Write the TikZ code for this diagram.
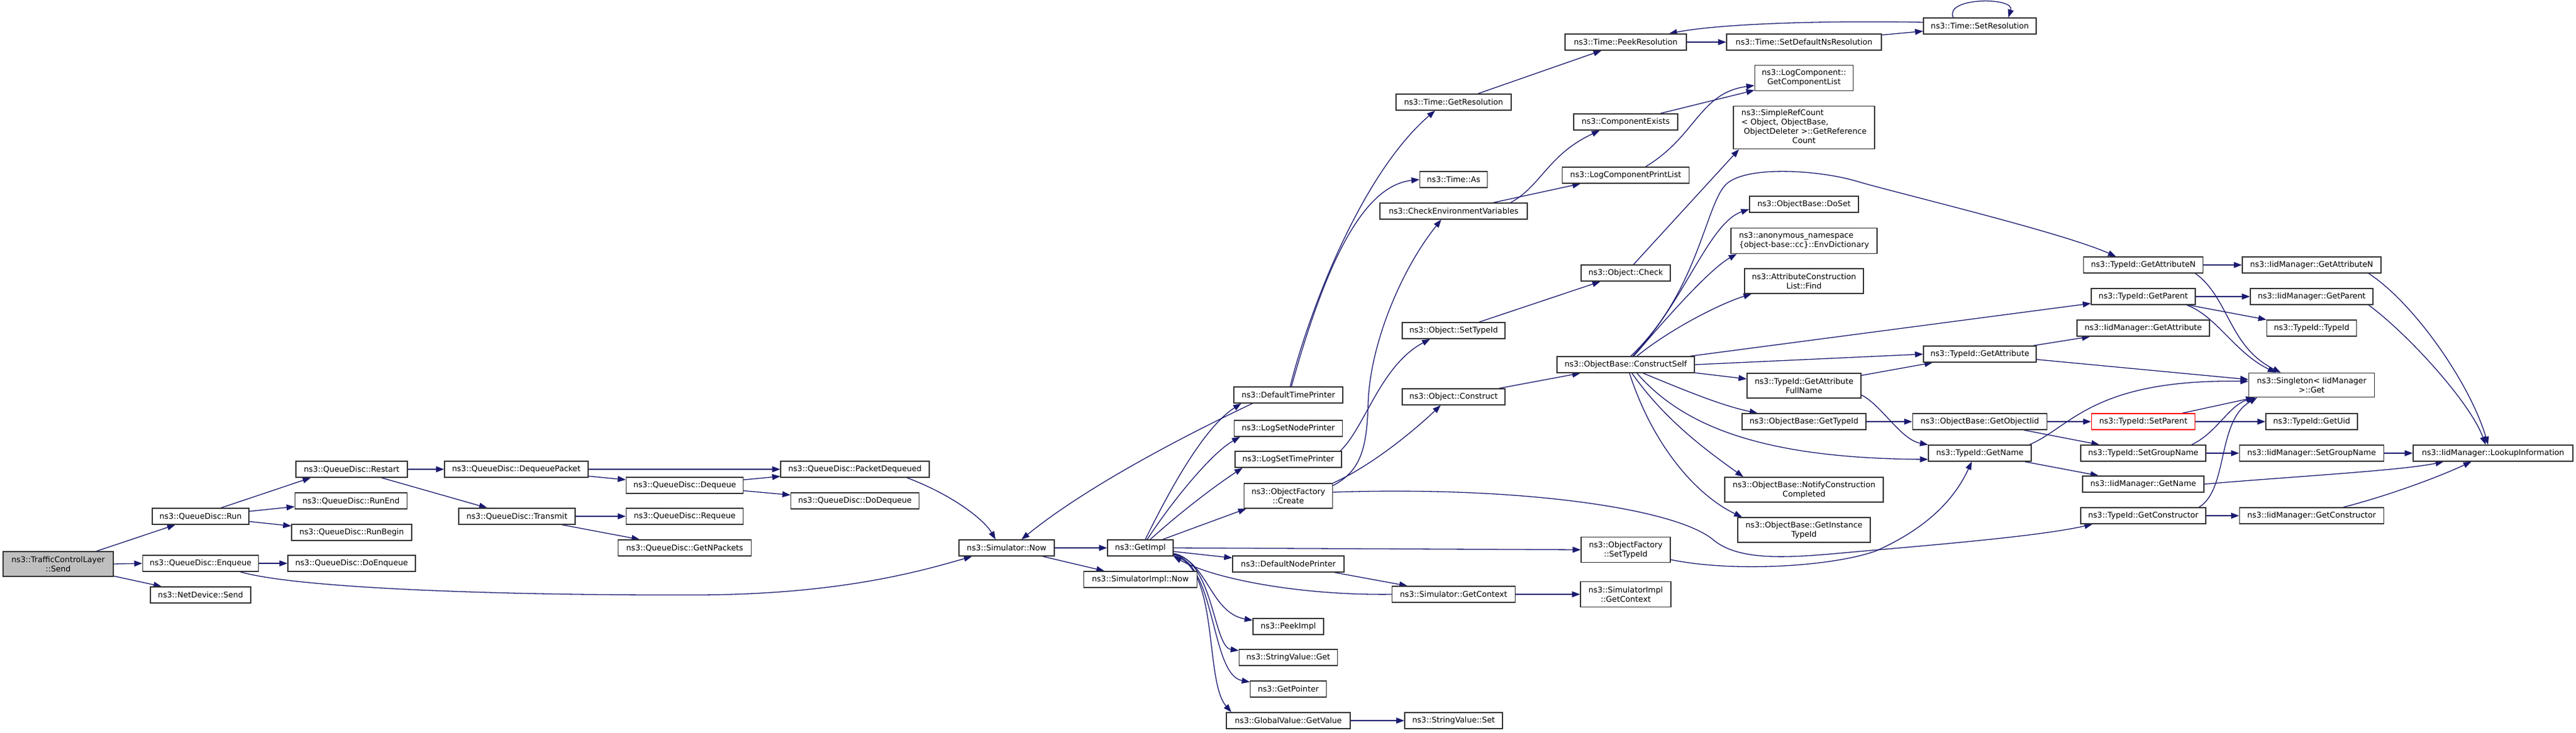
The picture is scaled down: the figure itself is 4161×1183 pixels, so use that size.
\documentclass[tikz,border=0pt]{standalone}
\usepackage{fontspec}
\setmainfont{DejaVu Sans}
\usetikzlibrary{arrows.meta}
\definecolor{mblue}{HTML}{191970}
\definecolor{nborder}{HTML}{333333}
\definecolor{sendfill}{HTML}{BFBFBF}
\definecolor{redb}{HTML}{FF0000}
\pgfdeclarelayer{bg}
\pgfsetlayers{bg,main}
\newcommand{\nfont}{\fontsize{12.7}{15}\selectfont}
\tikzset{
  nd/.style={draw=nborder, line width=1.4pt, fill=white, inner sep=0pt, align=center, font=\nfont, minimum height=26pt},
  e/.style={draw=mblue, line width=1.3pt, -{Triangle[length=13pt,width=9.5pt]}},
}
\begin{document}
\begin{tikzpicture}[x=1pt,y=-1pt]
\useasboundingbox (0,0) rectangle (4161,1183);
% column 0-1
\node[nd, fill=sendfill, minimum width=178pt, minimum height=40pt] (send) at (94,911) {ns3::TrafficControlLayer\\::Send};
\node[nd, minimum width=156pt] (run) at (324,834) {ns3::QueueDisc::Run};
\node[nd, minimum width=187pt] (enq) at (324,910) {ns3::QueueDisc::Enqueue};
\node[nd, minimum width=162pt] (ndsend) at (324,961) {ns3::NetDevice::Send};
\node[nd, minimum width=180pt] (restart) at (568,758) {ns3::QueueDisc::Restart};
\node[nd, minimum width=181pt] (runend) at (567,809) {ns3::QueueDisc::RunEnd};
\node[nd, minimum width=194pt] (runbegin) at (568,860) {ns3::QueueDisc::RunBegin};
\node[nd, minimum width=206pt] (doenq) at (568,910) {ns3::QueueDisc::DoEnqueue};
\node[nd, minimum width=232pt] (deqpkt) at (834,758) {ns3::QueueDisc::DequeuePacket};
\node[nd, minimum width=188pt] (transmit) at (835,834) {ns3::QueueDisc::Transmit};
\node[nd, minimum width=189pt] (dequeue) at (1106,784) {ns3::QueueDisc::Dequeue};
\node[nd, minimum width=189pt] (requeue) at (1106,834) {ns3::QueueDisc::Requeue};
\node[nd, minimum width=215pt] (getnp) at (1106,885) {ns3::QueueDisc::GetNPackets};
\node[nd, minimum width=240pt] (pktdeq) at (1381,758) {ns3::QueueDisc::PacketDequeued};
\node[nd, minimum width=207pt] (dodeq) at (1381,809) {ns3::QueueDisc::DoDequeue};
\node[nd, minimum width=154pt] (simnow) at (1626,885) {ns3::Simulator::Now};
\node[nd, minimum width=106pt] (getimpl) at (1842,885) {ns3::GetImpl};
\node[nd, minimum width=183pt] (simimplnow) at (1842,936) {ns3::SimulatorImpl::Now};
% column GetImpl callees
\node[nd, minimum width=176pt] (deftp) at (2081,638) {ns3::DefaultTimePrinter};
\node[nd, minimum width=175pt] (lsnp) at (2081,692) {ns3::LogSetNodePrinter};
\node[nd, minimum width=172pt] (lstp) at (2081,742) {ns3::LogSetTimePrinter};
\node[nd, minimum width=143pt, minimum height=40pt] (ofcreate) at (2081,801) {ns3::ObjectFactory\\::Create};
\node[nd, minimum width=180pt] (defnp) at (2081,911) {ns3::DefaultNodePrinter};
\node[nd, minimum width=114pt] (peekimpl) at (2081,1012) {ns3::PeekImpl};
\node[nd, minimum width=159pt] (strget) at (2081,1062) {ns3::StringValue::Get};
\node[nd, minimum width=123pt] (getptr) at (2081,1113) {ns3::GetPointer};
\node[nd, minimum width=200pt] (gvget) at (2081,1164) {ns3::GlobalValue::GetValue};
% next column
\node[nd, minimum width=186pt] (getres) at (2348,165) {ns3::Time::GetResolution};
\node[nd, minimum width=109pt] (timeas) at (2348,290) {ns3::Time::As};
\node[nd, minimum width=238pt] (cev) at (2348,341) {ns3::CheckEnvironmentVariables};
\node[nd, minimum width=166pt] (objsettid) at (2348,534) {ns3::Object::SetTypeId};
\node[nd, minimum width=166pt] (objconstruct) at (2348,641) {ns3::Object::Construct};
\node[nd, minimum width=199pt] (simgetctx) at (2348,960) {ns3::Simulator::GetContext};
\node[nd, minimum width=158pt] (strset) at (2348,1164) {ns3::StringValue::Set};
% next column
\node[nd, minimum width=196pt] (peekres) at (2626,68) {ns3::Time::PeekResolution};
\node[nd, minimum width=168pt] (compexists) at (2626,197) {ns3::ComponentExists};
\node[nd, minimum width=205pt] (lcpl) at (2626,283) {ns3::LogComponentPrintList};
\node[nd, minimum width=144pt] (objcheck) at (2626,441) {ns3::Object::Check};
\node[nd, minimum width=222pt] (constructself) at (2626,589) {ns3::ObjectBase::ConstructSelf};
\node[nd, minimum width=144pt, minimum height=41pt] (ofsettid) at (2626,888) {ns3::ObjectFactory\\::SetTypeId};
\node[nd, minimum width=146pt, minimum height=41pt] (simimplctx) at (2626,960) {ns3::SimulatorImpl\\::GetContext};
% next column
\node[nd, minimum width=250pt] (setdefns) at (2914,68) {ns3::Time::SetDefaultNsResolution};
\node[nd, minimum width=159pt, minimum height=41pt] (getcomplist) at (2914,126) {ns3::LogComponent::\\GetComponentList};
\node[nd, minimum width=228pt, minimum height=69pt] (simplerc) at (2914,206) {\begin{tabular}{@{}l@{}}ns3::SimpleRefCount\\< Object, ObjectBase,\\ \ ObjectDeleter >::GetReference\\\multicolumn{1}{@{}c@{}}{Count}\end{tabular}};
\node[nd, minimum width=176pt] (doset) at (2914,330) {ns3::ObjectBase::DoSet};
\node[nd, minimum width=236pt, minimum height=41pt] (anon) at (2914,389) {\begin{tabular}{@{}l@{}}ns3::anonymous\_namespace\\\{object-base::cc\}::EnvDictionary\end{tabular}};
\node[nd, minimum width=192pt, minimum height=40pt] (acfind) at (2914,454) {ns3::AttributeConstruction\\List::Find};
\node[nd, minimum width=184pt, minimum height=40pt] (gafn) at (2914,623) {ns3::TypeId::GetAttribute\\FullName};
\node[nd, minimum width=200pt] (obgettid) at (2914,681) {ns3::ObjectBase::GetTypeId};
\node[nd, minimum width=256pt, minimum height=40pt] (notify) at (2914,791) {ns3::ObjectBase::NotifyConstruction\\Completed};
\node[nd, minimum width=214pt, minimum height=40pt] (getinst) at (2914,856) {ns3::ObjectBase::GetInstance\\TypeId};
% next column
\node[nd, minimum width=182pt] (setres) at (3198,42) {ns3::Time::SetResolution};
\node[nd, minimum width=182pt] (tgetattr) at (3198,572) {ns3::TypeId::GetAttribute};
\node[nd, minimum width=217pt] (getobjiid) at (3198,681) {ns3::ObjectBase::GetObjectIid};
\node[nd, minimum width=166pt] (tgetname) at (3198,732) {ns3::TypeId::GetName};
% next column
\node[nd, minimum width=193pt] (tgetattrn) at (3462,428) {ns3::TypeId::GetAttributeN};
\node[nd, minimum width=168pt] (tgetparent) at (3462,479) {ns3::TypeId::GetParent};
\node[nd, minimum width=214pt] (iidgetattr) at (3462,530) {ns3::IidManager::GetAttribute};
\node[nd, minimum width=167pt, draw=redb] (setparent) at (3462,681) {ns3::TypeId::SetParent};
\node[nd, minimum width=202pt] (setgroup) at (3462,732) {ns3::TypeId::SetGroupName};
\node[nd, minimum width=196pt] (iidgetname) at (3462,782) {ns3::IidManager::GetName};
\node[nd, minimum width=202pt] (tgetctor) at (3462,833) {ns3::TypeId::GetConstructor};
% next column
\node[nd, minimum width=224pt] (iidgetattrn) at (3734,428) {ns3::IidManager::GetAttributeN};
\node[nd, minimum width=198pt] (iidgetparent) at (3734,479) {ns3::IidManager::GetParent};
\node[nd, minimum width=145pt] (typeidtypeid) at (3734,530) {ns3::TypeId::TypeId};
\node[nd, minimum width=203pt, minimum height=39pt] (singleton) at (3734,622) {ns3::Singleton< IidManager\\ >::Get};
\node[nd, minimum width=148pt] (getuid) at (3734,681) {ns3::TypeId::GetUid};
\node[nd, minimum width=233pt] (iidsetgroup) at (3734,732) {ns3::IidManager::SetGroupName};
\node[nd, minimum width=233pt] (iidgetctor) at (3734,833) {ns3::IidManager::GetConstructor};
\node[nd, minimum width=258pt] (lookup) at (4027,732) {ns3::IidManager::LookupInformation};

\begin{pgfonlayer}{bg}
\fill[white] (0,0) rectangle (4161,1183);
\draw[e] (send) -- (run);
\draw[e] (send.east) -- (enq.west);
\draw[e] (send) -- (ndsend);
\draw[e] ([xshift=33]run.north) -- ([xshift=-66]restart.south);
\draw[e] (run) -- (runend);
\draw[e] (run) -- (runbegin);
\draw[e] (enq) -- (doenq);
\draw[e] ([xshift=64]enq.south) .. controls (480,950) and (800,962) .. (1129,961) .. controls (1350,960) and (1480,925) .. ([xshift=-56]simnow.south);
\draw[e] (restart) -- (deqpkt);
\draw[e] (restart) -- (transmit);
\draw[e] (deqpkt) -- (pktdeq);
\draw[e] (deqpkt) -- (dequeue);
\draw[e] (dequeue) -- (pktdeq);
\draw[e] (dequeue) -- (dodeq);
\draw[e] (transmit) -- (requeue);
\draw[e] (transmit) -- (getnp);
\draw[e] ([xshift=84]pktdeq.south) .. controls (1540,800) and (1590,840) .. ([xshift=-18]simnow.north);
\draw[e] (simnow) -- (getimpl);
\draw[e] (simnow) -- (simimplnow);
\draw[e] ([xshift=-58]deftp.south) .. controls (1900,710) and (1750,790) .. ([xshift=24]simnow.north);
\draw[e] ([xshift=8]getimpl.north) .. controls (1890,790) and (1945,690) .. ([xshift=-76]deftp.south);
\draw[e] ([xshift=11]getimpl.north) .. controls (1900,800) and (1960,730) .. ([xshift=-78]lsnp.south);
\draw[e] ([xshift=16]getimpl.north) .. controls (1915,820) and (1970,780) .. ([xshift=-74]lstp.south);
\draw[e] ([xshift=36]getimpl.north) -- ([xshift=-68]ofcreate.south);
\draw[e] (getimpl.east) -- (ofsettid.west);
\draw[e] (getimpl) -- (defnp);
\draw[e] (simgetctx.west) .. controls (2100,962) and (1960,935) .. (getimpl.south east);
\draw[e] (getimpl) .. controls (1950,905) and (1955,990) .. (peekimpl);
\draw[e] (getimpl) .. controls (1960,905) and (1960,1045) .. (strget);
\draw[e] (getimpl) .. controls (1965,910) and (1955,1090) .. (getptr);
\draw[e] (getimpl) .. controls (1970,915) and (1945,1100) .. ([xshift=-92]gvget.north);
\draw[e] (gvget) -- (strset);
\draw[e] (defnp) -- (simgetctx);
\draw[e] (simgetctx) -- (simimplctx);
\draw[e] ([xshift=3]deftp.north) .. controls (2115,500) and (2200,280) .. ([xshift=-30]getres.south);
\draw[e] ([xshift=5]deftp.north) .. controls (2140,430) and (2200,300) .. (timeas.west);
\draw[e] (getres) -- (peekres);
\draw[e] (peekres) -- (setdefns);
\draw[e] (setdefns) -- (setres);
\draw[e] ([yshift=6]setres.west) .. controls (2950,33) and (2780,38) .. ([xshift=70]peekres.north);
\draw[e] ([xshift=-43]setres.north) .. controls (3140,-5) and (3255,-5) .. ([xshift=46]setres.north);
\draw[e] ([xshift=84]lstp.north) .. controls (2205,690) and (2230,590) .. ([xshift=-38]objsettid.south);
\draw[e] ([yshift=-4]ofcreate.north east) .. controls (2200,760) and (2208,720) .. (2210,650) .. controls (2213,560) and (2260,440) .. ([xshift=-20]cev.south);
\draw[e] (ofcreate.north east) .. controls (2220,750) and (2290,690) .. ([xshift=-21]objconstruct.south);
\draw[e] ([yshift=6]ofcreate.east) .. controls (2450,785) and (2700,820) .. (2765,870) .. controls (2810,910) and (2900,900) .. (3000,891) .. controls (3150,878) and (3300,865) .. ([xshift=-82]tgetctor.south);
\draw[e] ([yshift=-16]ofsettid.east) .. controls (2800,925) and (2960,915) .. (3030,890) .. controls (3120,850) and (3160,800) .. ([xshift=-13]tgetname.south);
\draw[e] (objconstruct) -- (constructself);
\draw[e] (objsettid) -- (objcheck);
\draw[e] (objcheck) -- ([xshift=-105]simplerc.south);
\draw[e] ([xshift=92]cev.north) .. controls (2490,300) and (2500,250) .. ([xshift=-42]compexists.south);
\draw[e] ([xshift=64]cev.north) -- ([xshift=-73]lcpl.south);
\draw[e] (compexists) -- (getcomplist);
\draw[e] ([xshift=32]lcpl.north) .. controls (2740,220) and (2745,150) .. ([yshift=-12]getcomplist.west);
\draw[e] ([xshift=11]constructself.north) .. controls (2720,490) and (2760,360) .. ([yshift=-8]doset.west);
\draw[e] ([xshift=13]constructself.north) .. controls (2720,480) and (2770,430) .. ([xshift=10]anon.south west);
\draw[e] ([xshift=18]constructself.north) .. controls (2700,530) and (2780,490) .. ([xshift=12]acfind.south west);
\draw[e] ([xshift=8]constructself.north) .. controls (2745,470) and (2755,325) .. (2790,296) .. controls (2825,267) and (2940,275) .. (3000,293) .. controls (3060,311) and (3330,375) .. ([xshift=-44]tgetattrn.north);
\draw[e] (constructself) -- (tgetparent);
\draw[e] (constructself.east) -- (tgetattr.west);
\draw[e] (constructself) -- (gafn);
\draw[e] ([xshift=28]constructself.south) .. controls (2720,630) and (2780,655) .. ([xshift=-75]obgettid.north);
\draw[e] ([xshift=18]constructself.south) .. controls (2720,690) and (2850,740) .. ([yshift=-10]tgetname.west);
\draw[e] ([xshift=10]constructself.south) .. controls (2690,680) and (2760,730) .. ([xshift=-98]notify.north);
\draw[e] ([xshift=6]constructself.south) .. controls (2670,720) and (2740,800) .. ([xshift=-100]getinst.north);
\draw[e] (tgetattrn) -- (iidgetattrn);
\draw[e] ([xshift=84]tgetattrn.south) .. controls (3600,480) and (3600,560) .. ([xshift=-50]singleton.north);
\draw[e] (tgetparent) -- (iidgetparent);
\draw[e] ([xshift=70]tgetparent.south) .. controls (3580,510) and (3610,570) .. ([xshift=-58]singleton.north);
\draw[e] (tgetparent) -- (typeidtypeid);
\draw[e] (tgetattr) -- (iidgetattr);
\draw[e] (tgetattr) -- ([yshift=9]singleton.west);
\draw[e] (gafn) -- (tgetattr);
\draw[e] ([yshift=-15]gafn.east) .. controls (3040,655) and (3070,710) .. (tgetname.north west);
\draw[e] (obgettid) -- (getobjiid);
\draw[e] (getobjiid) -- (setparent);
\draw[e] (getobjiid) -- (setgroup);
\draw[e] (setparent) -- (singleton);
\draw[e] (setparent) -- (getuid);
\draw[e] ([xshift=78]setgroup.north) .. controls (3580,700) and (3600,655) .. ([xshift=-92]singleton.south);
\draw[e] (setgroup) -- (iidsetgroup);
\draw[e] (iidsetgroup) -- (lookup);
\draw[e] ([xshift=80]tgetname.north) .. controls (3345,690) and (3380,612) .. ([yshift=6]singleton.west);
\draw[e] (tgetname) -- (iidgetname);
\draw[e] (iidgetname.east) .. controls (3700,770) and (3880,760) .. ([xshift=-80]lookup.south);
\draw[e] ([xshift=90]tgetctor.north) .. controls (3600,790) and (3580,680) .. ([xshift=-88]singleton.south);
\draw[e] (tgetctor) -- (iidgetctor);
\draw[e] ([xshift=51]iidgetctor.north) .. controls (3860,800) and (3940,770) .. ([xshift=-35]lookup.south);
\draw[e] ([xshift=92]iidgetattrn.south) .. controls (3900,490) and (3990,620) .. ([xshift=-8]lookup.north);
\draw[e] ([xshift=92]iidgetparent.south) .. controls (3890,540) and (3990,650) .. ([xshift=-12]lookup.north);
\end{pgfonlayer}
\end{tikzpicture}
\end{document}
